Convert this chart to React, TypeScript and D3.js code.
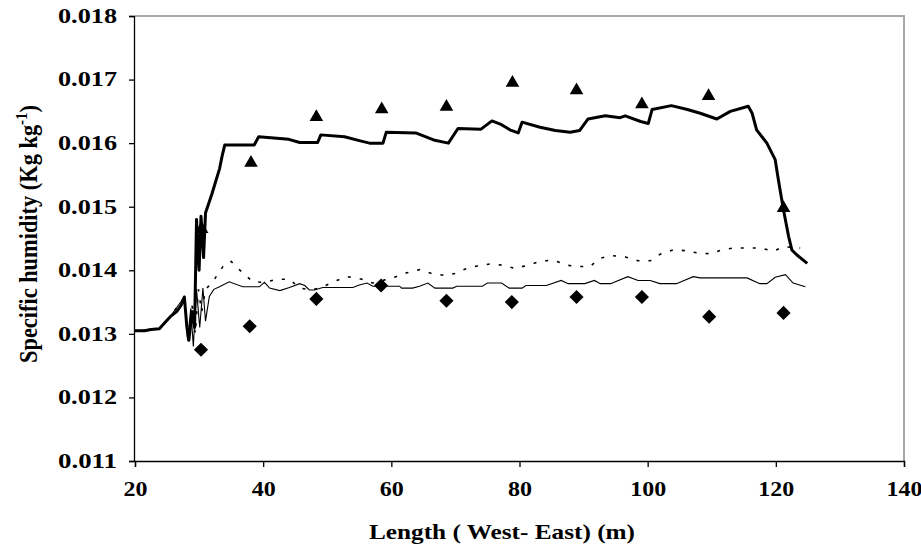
import { useEffect, useRef } from "react";
import * as d3 from "d3";

// thick solid line (upper series)
const thickLine: [number, number][] = [
  [20, 0.01305], [21.5, 0.01305], [22.5, 0.01307], [23.8, 0.01308], [24.5, 0.01316],
  [25.5, 0.01327], [26.5, 0.01335], [27.2, 0.01345], [27.7, 0.01358], [28.1, 0.0131],
  [28.4, 0.0129], [28.9, 0.01335], [29.3, 0.0131], [29.6, 0.0148], [30, 0.014],
  [30.3, 0.01485], [30.7, 0.0142], [31, 0.0149], [31.5, 0.01505], [32, 0.0152],
  [32.6, 0.0154], [33.2, 0.0156], [33.6, 0.0158], [34, 0.01597], [38.6, 0.01597],
  [39.3, 0.0161], [44, 0.01606], [45.7, 0.01601], [48.5, 0.01601], [49, 0.01613],
  [52.7, 0.0161], [55, 0.01604], [56.6, 0.016], [58.7, 0.016], [59.2, 0.01617],
  [63.8, 0.01616], [66.6, 0.01605], [68.9, 0.016], [70.4, 0.01623], [74, 0.01622],
  [75.7, 0.01635], [77, 0.0163], [78.5, 0.01621], [79.8, 0.01616], [80.4, 0.01633],
  [83.2, 0.01625], [85.6, 0.0162], [87.9, 0.01617], [89.4, 0.0162], [90.7, 0.01638],
  [93.4, 0.01643], [95.7, 0.0164], [96.5, 0.01643], [98.9, 0.01634], [100.1, 0.01631],
  [100.7, 0.01653], [103.7, 0.01659], [106.2, 0.01653], [108.2, 0.01647], [110.8, 0.01638],
  [112.9, 0.0165], [115.7, 0.01658], [116.3, 0.01647], [117, 0.01621], [118.6, 0.016],
  [119.9, 0.01574], [120.4, 0.01542], [121.2, 0.01495], [122, 0.01453], [122.5, 0.01432],
  [123.3, 0.01424], [124.9, 0.01411],
];

// dotted line (middle series)
const dottedLine: [number, number][] = [
  [20, 0.01305], [23.8, 0.01308], [25.5, 0.01327], [27.7, 0.01358], [28.3, 0.0129],
  [28.9, 0.01345], [29.4, 0.013], [29.9, 0.0137], [30.4, 0.01335], [31, 0.0137],
  [32, 0.0138], [33, 0.01395], [34, 0.0141], [35, 0.01414], [36.8, 0.01396],
  [38.4, 0.01382], [40.2, 0.01381], [42.1, 0.01386], [44.1, 0.01386], [45.7, 0.01372],
  [47.6, 0.01369], [49.3, 0.01374], [51.5, 0.01384], [53.2, 0.0139], [55.4, 0.01386],
  [57.1, 0.0138], [60.5, 0.01389], [62.4, 0.01396], [64.4, 0.01401], [66.3, 0.01395],
  [68.3, 0.01392], [69.9, 0.01395], [71.8, 0.01403], [73.5, 0.01407], [75.4, 0.0141],
  [77.4, 0.01408], [79.3, 0.01403], [81.3, 0.01408], [83.2, 0.01414], [85.2, 0.01416],
  [87.4, 0.01408], [89.1, 0.01406], [91, 0.01406], [92.6, 0.01419], [94.4, 0.01423],
  [96.5, 0.01421], [98.5, 0.01415], [100.4, 0.01415], [101.9, 0.01425], [104, 0.01432],
  [105.8, 0.01431], [107.9, 0.01427], [109.8, 0.01426], [111.3, 0.01431], [113.3, 0.01435],
  [117.6, 0.01435], [119.6, 0.0143], [121.2, 0.01437], [123.8, 0.01435],
];

// thin solid line (lower series)
const thinLine: [number, number][] = [
  [20, 0.01305], [23.8, 0.01308], [25.5, 0.01327], [27.7, 0.01358], [28.2, 0.0129],
  [28.7, 0.0134], [29.1, 0.0128], [29.6, 0.0137], [30.1, 0.0131], [30.6, 0.01372],
  [31, 0.0132], [31.6, 0.01359], [32.3, 0.0137], [33.2, 0.01374], [34.7, 0.01382],
  [36.8, 0.01374], [39.4, 0.01374], [40.2, 0.01381], [41, 0.01372], [42.6, 0.01368],
  [44.1, 0.01373], [45.7, 0.01379], [46.5, 0.01376], [47.2, 0.01369], [48, 0.01369],
  [49.3, 0.01373], [54, 0.01373], [55, 0.01377], [56.2, 0.0138], [57.1, 0.01375],
  [61.3, 0.01375], [61.6, 0.01372], [63.3, 0.01372], [64.4, 0.01375], [65.7, 0.0138],
  [66.8, 0.01372], [69.6, 0.01372], [70.2, 0.01375], [74.2, 0.01375], [75, 0.0138],
  [77.2, 0.0138], [78.4, 0.01372], [80.4, 0.01372], [81, 0.01376], [84.2, 0.01376],
  [86.5, 0.01384], [87.6, 0.01379], [90.2, 0.01379], [91.7, 0.01384], [92.6, 0.01379],
  [94.2, 0.01379], [96.9, 0.0139], [98.5, 0.01384], [100.4, 0.01384], [101.9, 0.01379],
  [104.5, 0.01379], [107.1, 0.0139], [108.2, 0.01388], [115.5, 0.01388], [117.5, 0.01379],
  [118.6, 0.01379], [119.9, 0.01389], [121.5, 0.01393], [122.7, 0.0138], [124.6, 0.01374],
];

// observed points
const triangles: [number, number][] = [
  [30.4, 0.01465], [38.1, 0.01569], [48.3, 0.01641], [58.5, 0.01653], [68.6, 0.01657],
  [78.9, 0.01695], [88.9, 0.01683], [99.1, 0.01661], [109.5, 0.01674], [121.2, 0.01498],
];
const diamonds: [number, number][] = [
  [30.3, 0.01275], [37.9, 0.01312], [48.3, 0.01355], [58.4, 0.01376], [68.6, 0.01352],
  [78.8, 0.0135], [88.9, 0.01358], [99.1, 0.01358], [109.6, 0.01327], [121.2, 0.01333],
];

const xTicks = [20, 40, 60, 80, 100, 120, 140];
const yTicks = [0.011, 0.012, 0.013, 0.014, 0.015, 0.016, 0.017, 0.018];

const W = 921;
const H = 553;
const margin = { left: 135, right: 17, top: 16, bottom: 92 };
const FONT = "'Liberation Serif', 'Times New Roman', serif";

export default function App() {
  const svgRef = useRef<SVGSVGElement>(null);

  useEffect(() => {
    const svg = d3.select(svgRef.current);
    svg.selectAll("*").remove();

    const x = d3.scaleLinear().domain([20, 140]).range([margin.left, W - margin.right]);
    const y = d3.scaleLinear().domain([0.011, 0.018]).range([H - margin.bottom, margin.top]);

    // grey frame top/right
    svg.append("path")
      .attr("d", `M${x(20)},${y(0.018)}H${x(140)}V${y(0.011)}`)
      .attr("fill", "none")
      .attr("stroke", "#a8a8a8")
      .attr("stroke-width", 2);

    const line = d3.line<[number, number]>().x((d) => x(d[0])).y((d) => y(d[1]));

    svg.append("path").datum(thinLine)
      .attr("d", line).attr("fill", "none").attr("stroke", "#000").attr("stroke-width", 1.1);
    svg.append("path").datum(dottedLine)
      .attr("d", line).attr("fill", "none").attr("stroke", "#000").attr("stroke-width", 1.6)
      .attr("stroke-dasharray", "3,9");
    svg.append("path").datum(thickLine)
      .attr("d", line).attr("fill", "none").attr("stroke", "#000").attr("stroke-width", 3)
      .attr("stroke-linejoin", "round");

    const tri = d3.symbol().type(d3.symbolTriangle).size(80);
    svg.selectAll("path.tri").data(triangles).join("path")
      .attr("class", "tri")
      .attr("d", tri)
      .attr("transform", (d) => `translate(${x(d[0])},${y(d[1])})`)
      .attr("fill", "#000");

    const sq = d3.symbol().type(d3.symbolSquare).size(100);
    svg.selectAll("path.dia").data(diamonds).join("path")
      .attr("class", "dia")
      .attr("d", sq)
      .attr("transform", (d) => `translate(${x(d[0])},${y(d[1])}) rotate(45)`)
      .attr("fill", "#000");

    // axes
    const yAxis = svg.append("g")
      .attr("transform", `translate(${margin.left - 1},0)`)
      .call(d3.axisLeft(y).tickValues(yTicks).tickSize(5).tickPadding(12).tickFormat(d3.format(".3f")));
    const xAxis = svg.append("g")
      .attr("transform", `translate(0,${H - margin.bottom})`)
      .call(d3.axisBottom(x).tickValues(xTicks).tickSize(6).tickPadding(15).tickFormat(d3.format("d")));

    [yAxis, xAxis].forEach((g) => {
      g.select(".domain").attr("stroke", "#000").attr("stroke-width", 1.3);
      g.selectAll(".tick line").attr("stroke", "#000").attr("stroke-width", 1.3);
      g.selectAll("text")
        .attr("font-family", FONT)
        .attr("font-weight", "bold")
        .attr("font-size", 20)
        .attr("fill", "#000");
    });
    yAxis.selectAll<SVGTextElement, number>("text")
      .attr("textLength", 59).attr("lengthAdjust", "spacingAndGlyphs");
    xAxis.selectAll<SVGTextElement, number>("text")
      .attr("textLength", (d) => String(d).length * 12)
      .attr("lengthAdjust", "spacingAndGlyphs");

    // axis titles
    svg.append("text")
      .attr("x", 502).attr("y", 539)
      .attr("text-anchor", "middle")
      .attr("font-family", FONT).attr("font-weight", "bold").attr("font-size", 22)
      .attr("textLength", 266).attr("lengthAdjust", "spacingAndGlyphs")
      .text("Length ( West- East) (m)");

    const yt = svg.append("text")
      .attr("transform", `translate(37,234) scale(1.2,1) rotate(-90)`)
      .attr("text-anchor", "middle")
      .attr("font-family", FONT).attr("font-weight", "bold").attr("font-size", 21)
      .attr("textLength", 258).attr("lengthAdjust", "spacingAndGlyphs");
    yt.append("tspan").text("Specific humidity (Kg kg");
    yt.append("tspan").attr("font-size", 14).attr("dy", -8).text("-1");
    yt.append("tspan").attr("dy", 8).text(")");
  }, []);

  return (
    <svg
      ref={svgRef}
      width={W}
      height={H}
      style={{ position: "absolute", left: 0, top: 0, background: "#fff" }}
    />
  );
}
